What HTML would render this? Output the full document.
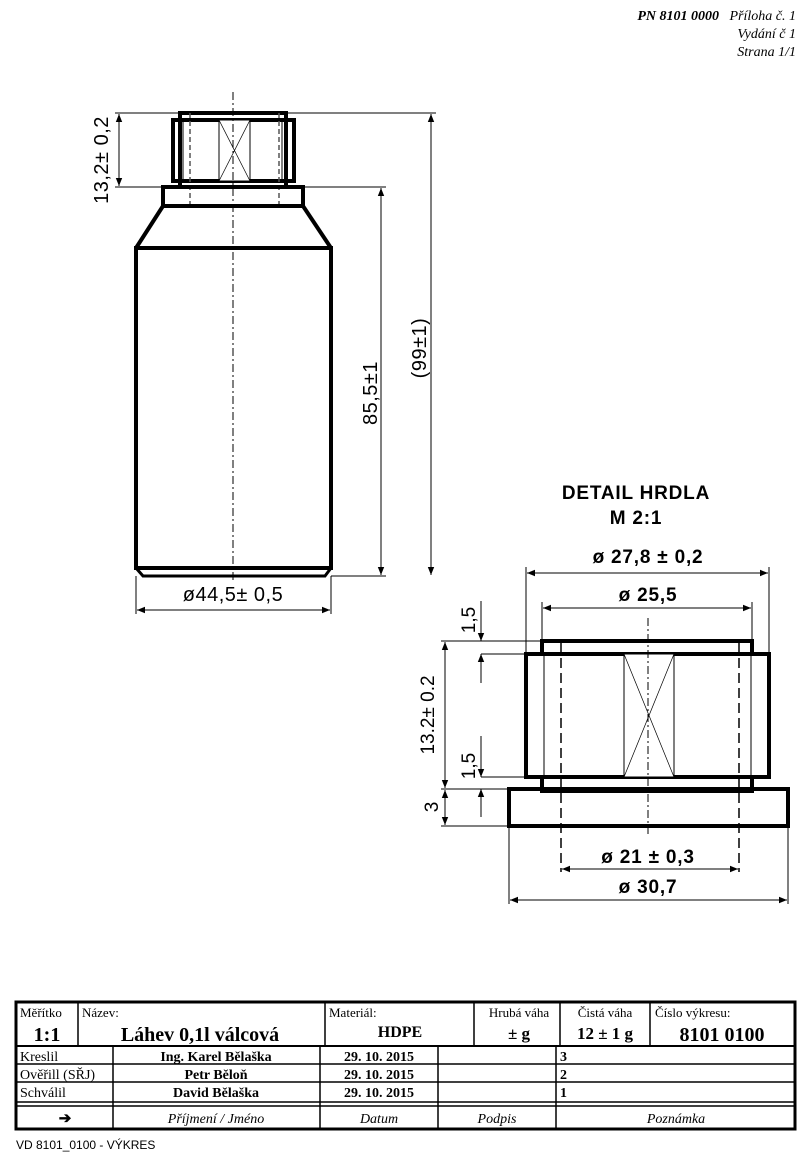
<!DOCTYPE html>
<html><head><meta charset="utf-8"><style>
html,body{margin:0;padding:0;background:#fff;}
svg{display:block;}
.s{font-family:"Liberation Sans",sans-serif;}
.r{font-family:"Liberation Serif",serif;}
</style></head><body>
<svg width="805" height="1156" viewBox="0 0 805 1156" xmlns="http://www.w3.org/2000/svg">
<defs>
<marker id="a" viewBox="0 0 10 10" refX="10" refY="5" markerWidth="10" markerHeight="8" markerUnits="userSpaceOnUse" orient="auto-start-reverse"><path d="M0,1 L10,5 L0,9 z" fill="#000"/></marker>
</defs>
<!-- header -->
<g class="r" font-style="italic" font-size="14" text-anchor="end">
<text x="796" y="20" xml:space="preserve"><tspan font-weight="bold">PN 8101 0000</tspan>   Příloha č. 1</text>
<text x="796" y="38">Vydání č 1</text>
<text x="796" y="56">Strana 1/1</text>
</g>

<!-- main bottle -->
<g stroke="#000" fill="none">
<rect x="180" y="113" width="106" height="74" stroke-width="4"/>
<rect x="173" y="120" width="121" height="61" stroke-width="4" fill="none"/>
<rect x="219" y="120" width="31" height="61" stroke-width="1" fill="#fff"/>
<line x1="219" y1="120" x2="250" y2="181" stroke-width="0.7"/>
<line x1="250" y1="120" x2="219" y2="181" stroke-width="0.7"/>
<line x1="183" y1="120" x2="183" y2="181" stroke-width="1"/>
<line x1="282" y1="120" x2="282" y2="181" stroke-width="1"/>
<line x1="190" y1="113" x2="190" y2="206" stroke-width="1.5" stroke-dasharray="5,3" stroke="#555"/>
<line x1="279" y1="113" x2="279" y2="206" stroke-width="1.5" stroke-dasharray="5,3" stroke="#555"/>
<line x1="233" y1="92" x2="233" y2="582" stroke-width="1" stroke-dasharray="8,3,2,3"/>
<rect x="163" y="187" width="140" height="19" stroke-width="4"/>
<path d="M163,206 L136,248 M303,206 L331,248" stroke-width="4"/>
<rect x="136" y="248" width="195" height="320" stroke-width="4"/>
<path d="M136,568 L143,576 L325,576 L331,568" stroke-width="3"/>
<g stroke-width="1">
<line x1="115" y1="113" x2="180" y2="113"/>
<line x1="115" y1="187" x2="163" y2="187"/>
<line x1="119" y1="114" x2="119" y2="186" marker-start="url(#a)" marker-end="url(#a)"/>
<line x1="303" y1="187" x2="386" y2="187"/>
<line x1="331" y1="576" x2="386" y2="576"/>
<line x1="381" y1="188" x2="381" y2="575" marker-start="url(#a)" marker-end="url(#a)"/>
<line x1="286" y1="113" x2="436" y2="113"/>
<line x1="431" y1="114" x2="431" y2="575" marker-start="url(#a)" marker-end="url(#a)"/>
<line x1="136" y1="576" x2="136" y2="614"/>
<line x1="331" y1="576" x2="331" y2="614"/>
<line x1="137" y1="610" x2="330" y2="610" marker-start="url(#a)" marker-end="url(#a)"/>
</g>
</g>
<g class="s" font-size="20" fill="#000" letter-spacing="0.5">
<text transform="translate(108,160) rotate(-90)" text-anchor="middle">13,2± 0,2</text>
<text transform="translate(377,393) rotate(-90)" text-anchor="middle">85,5±1</text>
<text transform="translate(426,348) rotate(-90)" text-anchor="middle">(99±1)</text>
<text x="233" y="601" text-anchor="middle">ø44,5± 0,5</text>
</g>

<!-- detail -->
<g class="s" font-size="19" font-weight="bold" text-anchor="middle" letter-spacing="0.8">
<text x="636" y="499">DETAIL HRDLA</text>
<text x="636" y="524">M 2:1</text>
</g>
<g stroke="#000" fill="none">
<rect x="542" y="641" width="210" height="150" stroke-width="4"/>
<rect x="526" y="654" width="243" height="123" stroke-width="4" fill="#fff"/>
<rect x="624" y="654" width="50" height="123" stroke-width="1" fill="#fff"/>
<line x1="624" y1="654" x2="674" y2="777" stroke-width="0.7"/>
<line x1="674" y1="654" x2="624" y2="777" stroke-width="0.7"/>
<line x1="544" y1="654" x2="544" y2="777" stroke-width="1"/>
<line x1="751" y1="654" x2="751" y2="777" stroke-width="1"/>
<rect x="509" y="789" width="279" height="37" stroke-width="4" fill="none"/>
<line x1="561" y1="643" x2="561" y2="872" stroke-width="1.5" stroke-dasharray="10,5"/>
<line x1="739" y1="643" x2="739" y2="872" stroke-width="1.5" stroke-dasharray="10,5"/>
<line x1="648" y1="618" x2="648" y2="836" stroke-width="1" stroke-dasharray="8,3,2,3"/>
<g stroke-width="1">
<line x1="526" y1="567" x2="526" y2="654"/>
<line x1="769" y1="567" x2="769" y2="654"/>
<line x1="527" y1="573" x2="768" y2="573" marker-start="url(#a)" marker-end="url(#a)"/>
<line x1="542" y1="602" x2="542" y2="641"/>
<line x1="752" y1="602" x2="752" y2="641"/>
<line x1="543" y1="608" x2="751" y2="608" marker-start="url(#a)" marker-end="url(#a)"/>
<line x1="441" y1="641" x2="542" y2="641"/>
<line x1="441" y1="789" x2="509" y2="789"/>
<line x1="441" y1="826" x2="509" y2="826"/>
<line x1="445" y1="642" x2="445" y2="788" marker-start="url(#a)" marker-end="url(#a)"/>
<line x1="445" y1="790" x2="445" y2="825" marker-start="url(#a)" marker-end="url(#a)"/>
<line x1="481" y1="654" x2="526" y2="654"/>
<line x1="481" y1="777" x2="526" y2="777"/>
<line x1="481" y1="601" x2="481" y2="641" marker-end="url(#a)"/>
<line x1="481" y1="683" x2="481" y2="654" marker-end="url(#a)"/>
<line x1="481" y1="736" x2="481" y2="777" marker-end="url(#a)"/>
<line x1="481" y1="817" x2="481" y2="789" marker-end="url(#a)"/>
<line x1="562" y1="869" x2="738" y2="869" marker-start="url(#a)" marker-end="url(#a)"/>
<line x1="509" y1="826" x2="509" y2="904"/>
<line x1="788" y1="826" x2="788" y2="904"/>
<line x1="510" y1="900" x2="787" y2="900" marker-start="url(#a)" marker-end="url(#a)"/>
</g>
</g>
<g class="s" font-size="19" fill="#000" text-anchor="middle" letter-spacing="0.8">
<text x="648" y="563" font-weight="bold">ø 27,8 ± 0,2</text>
<text x="648" y="601" font-weight="bold">ø 25,5</text>
<text x="648" y="863" font-weight="bold">ø 21 ± 0,3</text>
<text x="648" y="893" font-weight="bold">ø 30,7</text>
</g>
<g class="s" font-size="19" fill="#000" text-anchor="middle">
<text transform="translate(434,715) rotate(-90)">13.2± 0.2</text>
<text transform="translate(438,807) rotate(-90)">3</text>
<text transform="translate(475,620) rotate(-90)">1,5</text>
<text transform="translate(475,766) rotate(-90)">1,5</text>
</g>

<!-- title block -->
<g stroke="#000" fill="none">
<rect x="16" y="1002" width="779" height="127" stroke-width="3"/>
<line x1="16" y1="1046" x2="795" y2="1046" stroke-width="2"/>
<line x1="16" y1="1064" x2="795" y2="1064" stroke-width="1.5"/>
<line x1="16" y1="1082" x2="795" y2="1082" stroke-width="1.5"/>
<line x1="16" y1="1102" x2="795" y2="1102" stroke-width="1.5"/>
<line x1="16" y1="1106" x2="795" y2="1106" stroke-width="1.5"/>
<g stroke-width="1.5">
<line x1="78" y1="1002" x2="78" y2="1046"/>
<line x1="325" y1="1002" x2="325" y2="1046"/>
<line x1="474" y1="1002" x2="474" y2="1046"/>
<line x1="560" y1="1002" x2="560" y2="1046"/>
<line x1="650" y1="1002" x2="650" y2="1046"/>
<line x1="113" y1="1046" x2="113" y2="1129"/>
<line x1="320" y1="1046" x2="320" y2="1129"/>
<line x1="438" y1="1046" x2="438" y2="1129"/>
<line x1="556" y1="1046" x2="556" y2="1129"/>
</g>
</g>
<g class="r" fill="#000" font-size="13">
<text x="20" y="1017">Měřítko</text>
<text x="82" y="1017">Název:</text>
<text x="329" y="1017">Materiál:</text>
<text x="519" y="1017" text-anchor="middle">Hrubá váha</text>
<text x="605" y="1017" text-anchor="middle">Čistá váha</text>
<text x="655" y="1017">Číslo výkresu:</text>
<g font-weight="bold">
<text x="47" y="1041" font-size="20" text-anchor="middle">1:1</text>
<text x="200" y="1041" font-size="20" text-anchor="middle">Láhev 0,1l válcová</text>
<text x="400" y="1037" font-size="16" text-anchor="middle">HDPE</text>
<text x="519" y="1039" font-size="17" text-anchor="middle">±  g</text>
<text x="605" y="1039" font-size="17" text-anchor="middle">12 ± 1 g</text>
<text x="722" y="1041" font-size="20" text-anchor="middle">8101 0100</text>
<g font-size="14">
<text x="216" y="1061" text-anchor="middle">Ing. Karel Bělaška</text>
<text x="216" y="1079" text-anchor="middle">Petr Běloň</text>
<text x="216" y="1097" text-anchor="middle">David Bělaška</text>
<text x="379" y="1061" text-anchor="middle">29. 10. 2015</text>
<text x="379" y="1079" text-anchor="middle">29. 10. 2015</text>
<text x="379" y="1097" text-anchor="middle">29. 10. 2015</text>
<text x="560" y="1061">3</text>
<text x="560" y="1079">2</text>
<text x="560" y="1097">1</text>
</g>
<text x="65" y="1123" text-anchor="middle" font-size="15">➔</text>
</g>
<text x="20" y="1061" font-size="14">Kreslil</text>
<text x="20" y="1079" font-size="14">Ověřill (SŘJ)</text>
<text x="20" y="1097" font-size="14">Schválil</text>
<g font-style="italic" text-anchor="middle" font-size="14">
<text x="216" y="1123">Příjmení / Jméno</text>
<text x="379" y="1123">Datum</text>
<text x="497" y="1123">Podpis</text>
<text x="676" y="1123">Poznámka</text>
</g>
</g>
<text class="s" x="16" y="1149" font-size="12">VD 8101_0100 - VÝKRES</text>
</svg>
</body></html>
